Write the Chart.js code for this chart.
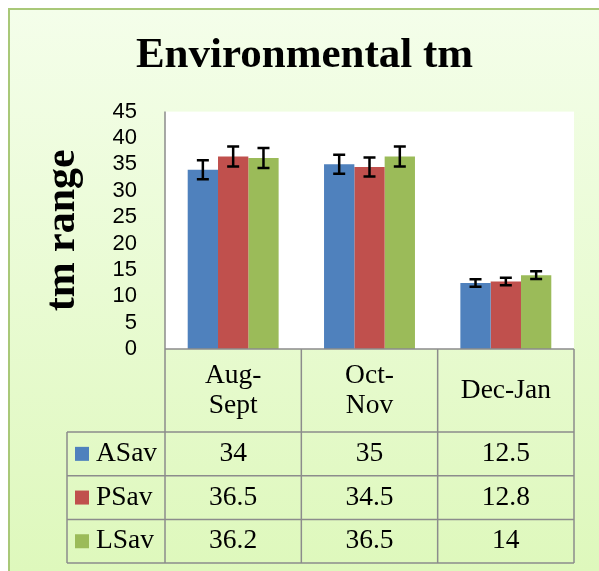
<!DOCTYPE html>
<html>
<head>
<meta charset="utf-8">
<script src="https://cdn.jsdelivr.net/npm/chart.js@4.4.0/dist/chart.umd.min.js"></script>
<style>
  html, body { margin: 0; padding: 0; background: #fff; }
</style>
</head>
<body>
<canvas id="envChart" width="599" height="571"></canvas>
<script>
// data
const periods = [['Aug-', 'Sept'], ['Oct-', 'Nov'], ['Dec-Jan']];
const seriesNames = ['ASav', 'PSav', 'LSav'];
const asav = [34, 35, 12.5];
const psav = [36.5, 34.5, 12.8];
const lsav = [36.2, 36.5, 14];
// error bar half-heights
const asavErr = [1.8, 1.8, 0.7];
const psavErr = [1.9, 1.8, 0.7];
const lsavErr = [1.9, 1.9, 0.75];
const yTicks = [0, 5, 10, 15, 20, 25, 30, 35, 40, 45];

const colors = ['#4F81BD', '#C0504D', '#9BBB59'];
const serif = "'Liberation Serif', 'Times New Roman', serif";

// background, frame and white plot area
const backdrop = {
    id: 'backdrop',
    beforeDraw(chart) {
        const {ctx, width, height, chartArea: a} = chart;
        ctx.save();
        ctx.fillStyle = '#fff';
        ctx.fillRect(0, 0, width, height);
        const g = ctx.createLinearGradient(0, 9, 0, height);
        g.addColorStop(0, '#F4FEEA');
        g.addColorStop(1, '#DEF8BC');
        ctx.fillStyle = g;
        ctx.fillRect(9, 9, width - 9, height - 9);
        ctx.strokeStyle = '#A9C878';
        ctx.lineWidth = 2;
        ctx.beginPath();
        ctx.moveTo(9, height);
        ctx.lineTo(9, 9);
        ctx.lineTo(width, 9);
        ctx.stroke();
        ctx.fillStyle = '#fff';
        ctx.fillRect(a.left, a.top, a.right - a.left, a.bottom - a.top);
        ctx.restore();
    }
};

// error bars on every bar
const errorBars = {
    id: 'errorBars',
    afterDatasetsDraw(chart) {
        const {ctx, scales: {y}} = chart;
        ctx.save();
        ctx.strokeStyle = '#000';
        ctx.lineWidth = 2.5;
        chart.data.datasets.forEach((ds, i) => {
            chart.getDatasetMeta(i).data.forEach((bar, j) => {
                const top = y.getPixelForValue(ds.data[j] + ds.errors[j]);
                const bot = y.getPixelForValue(ds.data[j] - ds.errors[j]);
                ctx.beginPath();
                ctx.moveTo(bar.x, top); ctx.lineTo(bar.x, bot);
                ctx.moveTo(bar.x - 6, top); ctx.lineTo(bar.x + 6, top);
                ctx.moveTo(bar.x - 6, bot); ctx.lineTo(bar.x + 6, bot);
                ctx.stroke();
            });
        });
        ctx.restore();
    }
};

// data table under the plot
const dataTable = {
    id: 'dataTable',
    afterDraw(chart) {
        const {ctx, chartArea: a, scales: {x}} = chart;
        const colW = x.getPixelForValue(1) - x.getPixelForValue(0);
        const headBot = 432, rowH = 43.7, legLeft = 67;
        const tblBot = headBot + rowH * chart.data.datasets.length;
        ctx.save();
        ctx.strokeStyle = '#8C8C8C';
        ctx.lineWidth = 1.5;
        ctx.beginPath();
        ctx.moveTo(a.left, a.top); ctx.lineTo(a.left, tblBot);
        ctx.moveTo(legLeft, headBot); ctx.lineTo(legLeft, tblBot);
        chart.data.labels.forEach((l, i) => {
            const xe = x.getPixelForValue(i) + colW / 2;
            ctx.moveTo(xe, a.bottom); ctx.lineTo(xe, tblBot);
        });
        ctx.moveTo(a.left, a.bottom); ctx.lineTo(a.right, a.bottom);
        for (let r = 0; r <= chart.data.datasets.length; r++) {
            ctx.moveTo(legLeft, headBot + r * rowH); ctx.lineTo(a.right, headBot + r * rowH);
        }
        ctx.stroke();

        ctx.fillStyle = '#000';
        ctx.font = '27.5px ' + serif;
        ctx.textAlign = 'center';
        ctx.textBaseline = 'middle';
        const headMid = (a.bottom + headBot) / 2;
        chart.data.labels.forEach((lab, i) => {
            const cx = x.getPixelForValue(i);
            lab.forEach((t, k) => ctx.fillText(t, cx, headMid + (k - (lab.length - 1) / 2) * 30));
        });
        chart.data.datasets.forEach((ds, r) => {
            const cy = headBot + rowH * (r + 0.5);
            ds.data.forEach((v, i) => {
                ctx.textAlign = 'center';
                ctx.fillText(String(v), x.getPixelForValue(i), cy);
            });
            ctx.fillStyle = ds.backgroundColor;
            ctx.fillRect(75, cy - 7, 14, 14);
            ctx.fillStyle = '#000';
            ctx.textAlign = 'left';
            ctx.fillText(ds.label, 96, cy);
        });
        ctx.restore();
    }
};

const ctx = document.getElementById('envChart').getContext('2d');
const envChart = new Chart(ctx, {
    type: 'bar',
    data: {
        labels: periods,
        datasets: [
            {label: seriesNames[0], data: asav, errors: asavErr, backgroundColor: colors[0]},
            {label: seriesNames[1], data: psav, errors: psavErr, backgroundColor: colors[1]},
            {label: seriesNames[2], data: lsav, errors: lsavErr, backgroundColor: colors[2]}
        ]
    },
    options: {
        responsive: false,
        animation: false,
        layout: {padding: {left: 35, right: 25, top: 0, bottom: 222}},
        datasets: {bar: {categoryPercentage: 0.667, barPercentage: 1}},
        plugins: {
            legend: {display: false},
            tooltip: {enabled: false},
            title: {
                display: true,
                text: 'Environmental tm',
                color: '#000',
                font: {family: serif, size: 43, weight: 'bold', lineHeight: 1.2},
                padding: {top: 30, bottom: 30}
            }
        },
        scales: {
            x: {display: false},
            y: {
                min: yTicks[0],
                max: yTicks[yTicks.length - 1],
                afterFit: (scale) => { scale.width = 130; },
                grid: {display: false, drawTicks: false},
                border: {display: false},
                ticks: {
                    stepSize: yTicks[1] - yTicks[0],
                    autoSkip: false,
                    padding: 28,
                    color: '#000',
                    font: {family: "'Liberation Sans', Arial, sans-serif", size: 22, lineHeight: 1}
                },
                title: {
                    display: true,
                    text: 'tm range',
                    color: '#000',
                    font: {family: serif, size: 42, weight: 'bold', lineHeight: 1.2},
                    padding: {top: 3, bottom: 4}
                }
            }
        }
    },
    plugins: [backdrop, errorBars, dataTable]
});
</script>
</body>
</html>
